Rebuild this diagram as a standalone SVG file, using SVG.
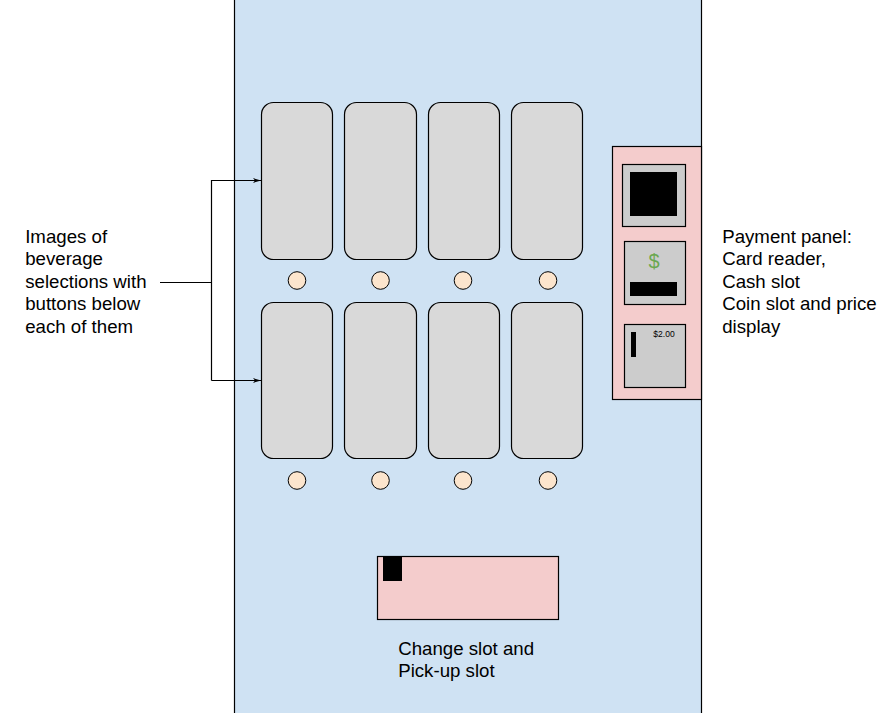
<svg xmlns="http://www.w3.org/2000/svg" width="889" height="713" viewBox="0 0 889 713">
<style>
.card{fill:#d9d9d9;stroke:#000;stroke-width:1.2}
.btn{fill:#fce5cd;stroke:#000;stroke-width:1}
.pink{fill:#f4cccc;stroke:#000;stroke-width:1.2}
.grey{fill:#cccccc;stroke:#000;stroke-width:1.2}
.k{fill:#000}
.t{font-family:"Liberation Sans",Arial,sans-serif;font-size:18.67px;fill:#000}
.c{fill:none;stroke:#000;stroke-width:1.2}
</style>
<defs>
<marker id="a" markerUnits="userSpaceOnUse" markerWidth="9" markerHeight="6" refX="8" refY="3" orient="auto"><path d="M0 0.6L8 3L0 5.4L2 3Z" fill="#000"/></marker>
</defs>
<g id="machine"><rect x="234.500" y="-2" width="467" height="720" fill="#cfe2f3" stroke="#000" stroke-width="1.2"/></g>
<g id="images">
<rect id="image1" class="card" x="261.500" y="102.500" width="71" height="157" rx="12"/>
<rect id="image2" class="card" x="344.500" y="102.500" width="72" height="157" rx="12"/>
<rect id="image3" class="card" x="428.500" y="102.500" width="71" height="157" rx="12"/>
<rect id="image4" class="card" x="511.500" y="102.500" width="71" height="157" rx="12"/>
<rect id="image5" class="card" x="261.500" y="302.500" width="71" height="156" rx="12"/>
<rect id="image6" class="card" x="344.500" y="302.500" width="72" height="156" rx="12"/>
<rect id="image7" class="card" x="428.500" y="302.500" width="71" height="156" rx="12"/>
<rect id="image8" class="card" x="511.500" y="302.500" width="71" height="156" rx="12"/>
</g>
<g id="buttons">
<circle id="button1" class="btn" cx="297" cy="280.500" r="8.800"/>
<circle id="button2" class="btn" cx="380.500" cy="280.500" r="8.800"/>
<circle id="button3" class="btn" cx="463" cy="280.500" r="8.800"/>
<circle id="button4" class="btn" cx="548" cy="280.500" r="8.800"/>
<circle id="button5" class="btn" cx="297" cy="480.500" r="8.800"/>
<circle id="button6" class="btn" cx="380.500" cy="480.500" r="8.800"/>
<circle id="button7" class="btn" cx="463" cy="480.500" r="8.800"/>
<circle id="button8" class="btn" cx="548" cy="480.500" r="8.800"/>
</g>
<g id="payment-panel">
<rect class="pink" x="612.500" y="146.500" width="89" height="253"/>
<rect class="grey" x="622.500" y="164.500" width="63" height="62"/>
<rect class="k" x="630" y="172" width="47" height="44"/>
<rect class="grey" x="624.500" y="241.500" width="61" height="63"/>
<text x="654" y="268" text-anchor="middle" font-family="'Liberation Sans',Arial,sans-serif" font-size="20" fill="#6aa84f">$</text>
<rect class="k" x="630" y="282" width="47" height="14"/>
<rect class="grey" x="624.500" y="324.500" width="61" height="63"/>
<rect class="k" x="631" y="332" width="5" height="25"/>
<text x="664" y="337" text-anchor="middle" font-family="'Liberation Sans',Arial,sans-serif" font-size="8.500" fill="#000">$2.00</text>
</g>
<g id="pickup-slot">
<rect class="pink" x="377.500" y="556.500" width="181" height="63"/>
<rect class="k" x="383" y="557" width="19" height="24"/>
</g>
<g id="connectors">
<path class="c" d="M160 282.500H211.500"/>
<path class="c" d="M211.500 380.500V180.500H261" marker-end="url(#a)"/>
<path class="c" d="M211.500 380.500H261" marker-end="url(#a)"/>
</g>
<g id="labels">
<text class="t"><tspan x="25.200" y="242.500">Images of</tspan><tspan x="25.200" y="265">beverage</tspan><tspan x="25.200" y="287.500">selections with</tspan><tspan x="25.200" y="310">buttons below</tspan><tspan x="25.200" y="332.500">each of them</tspan></text>
<text class="t"><tspan x="722.200" y="242.500">Payment panel:</tspan><tspan x="722.200" y="265">Card reader,</tspan><tspan x="722.200" y="287.500">Cash slot</tspan><tspan x="722.200" y="310">Coin slot and price</tspan><tspan x="722.200" y="332.500">display</tspan></text>
<text class="t"><tspan x="398.200" y="654.500">Change slot and</tspan><tspan x="398.200" y="677">Pick-up slot</tspan></text>
</g>
</svg>
